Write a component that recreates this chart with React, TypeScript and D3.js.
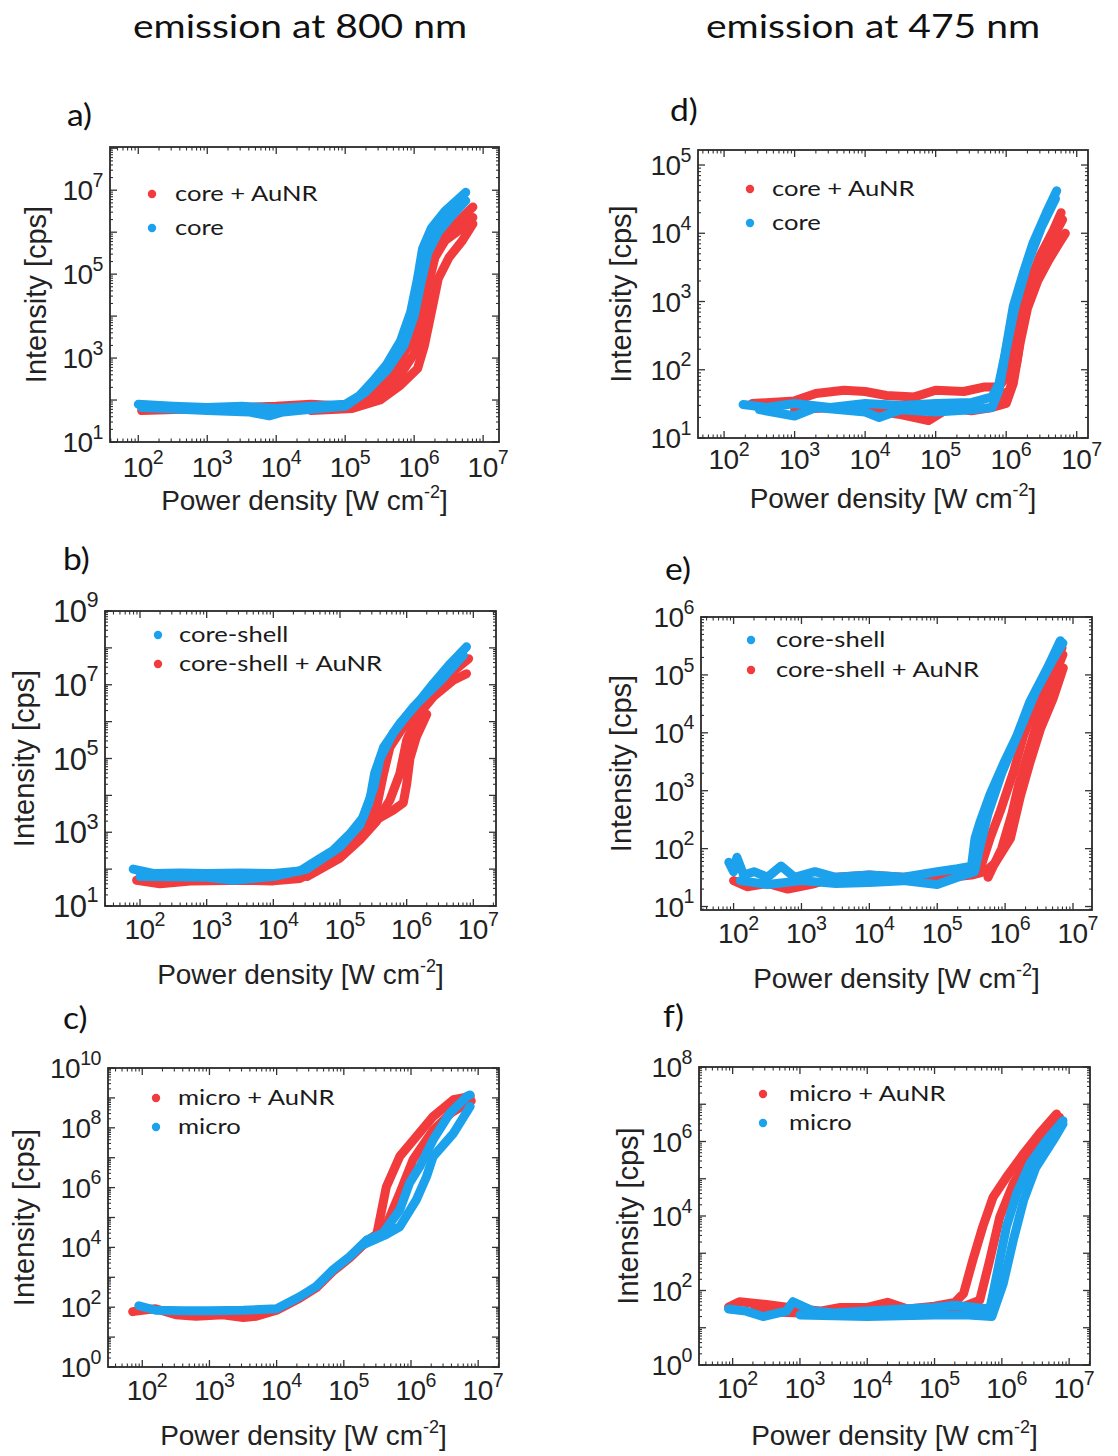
import React from 'react';
import * as d3 from 'd3';

type Pt = [number, number];

const RED = '#f13b3d';
const BLUE = '#1ca2ec';

const columnTitles = ['emission at 800 nm', 'emission at 475 nm'];
const xAxisTitle = 'Power density [W cm';
const yAxisTitle = 'Intensity [cps]';
const xTickExps = [2, 3, 4, 5, 6, 7];

// ---------- panel a: 800 nm, core ----------
const aCoreAuNR: Pt[][] = [
  [[112,56],[1e3,63],[1e4,71],[3.2e4,79],[1e5,71],[2e5,126],[3.2e5,250],[5.6e5,630],[8.9e5,2500],[1.12e6,1.26e4],[1.32e6,7.9e4],[1.58e6,3.2e5],[2.24e6,7.9e5],[4e6,1.58e6],[7.1e6,4e6]],
  [[126,63],[3.2e3,63],[6.3e4,63],[1.6e5,79],[3.2e5,158],[6.3e5,400],[1e6,1260],[1.32e6,7900],[1.58e6,5e4],[2e6,2.5e5],[2.8e6,6.3e5],[5e6,1.26e6],[7.1e6,2.24e6]],
  [[3.2e4,56],[1.26e5,63],[3.2e5,100],[6.3e5,224],[1.12e6,560],[1.41e6,2000],[1.78e6,1.26e4],[2.24e6,7.9e4],[3.2e6,2.5e5],[5e6,6.3e5],[7.1e6,1.58e6]],
];
const aCore: Pt[][] = [
  [[100,79],[320,71],[1e3,66],[3.2e3,71],[1e4,63],[3.2e4,71],[1e5,79],[1.6e5,126],[2.5e5,280],[4e5,710],[6.3e5,2500],[8.9e5,1.26e4],[1.12e6,7.9e4],[1.32e6,4e5],[1.78e6,1.26e6],[2.8e6,3.2e6],[5.6e6,8.9e6]],
  [[112,66],[1e3,56],[4e3,52],[7.9e3,42],[1.26e4,52],[3.2e4,60],[1e5,71],[2e5,158],[4e5,500],[7.1e5,2000],[1e6,1e4],[1.26e6,6.3e4],[1.58e6,3.2e5],[2.24e6,1e6],[3.55e6,2.5e6],[5.6e6,5.6e6]],
];

// ---------- panel d: 475 nm, core ----------
const dCoreAuNR: Pt[][] = [
  [[250,32],[1e3,35],[2e3,45],[5e3,50],[1e4,48],[2e4,42],[5e4,40],[1e5,50],[2.5e5,48],[5e5,56],[7.9e5,56],[1e6,79],[1.12e6,158],[1.41e6,490],[1.95e6,1480],[3e6,4600],[4.7e6,1.12e4],[6e6,2e4]],
  [[1e3,26],[3.2e3,28],[1e4,26],[3.2e4,22],[7.9e4,18],[1.58e5,28],[3.2e5,25],[6.3e5,28],[1e6,32],[1.26e6,63],[1.58e6,250],[2e6,790],[2.8e6,2000],[4e6,4000],[5.6e6,7100],[6.9e6,1e4]],
  [[7.9e5,40],[1.12e6,50],[1.41e6,126],[1.78e6,630],[2.5e6,2000],[3.55e6,5000],[5e6,1e4],[6.3e6,1.58e4]],
];
const dCore: Pt[][] = [
  [[186,31],[400,28],[1e3,32],[3.2e3,28],[1e4,32],[3.2e4,30],[1e5,32],[3.2e5,33],[6.3e5,40],[7.9e5,63],[9.5e5,158],[1.26e6,850],[1.74e6,2600],[2.4e6,7200],[3.7e6,2e4],[5.2e6,4.2e4]],
  [[316,26],[1e3,21],[2e3,28],[1e4,24],[1.58e4,20],[3.2e4,26],[1e5,24],[3.2e5,26],[6.3e5,28],[7.9e5,50],[1e6,200],[1.32e6,790],[2e6,3550],[3.2e6,1.26e4],[5e6,3.2e4]],
];

// ---------- panel b: 800 nm, core-shell ----------
const bCoreShell: Pt[][] = [
  [[79,100],[158,76],[400,79],[1e3,76],[3.2e3,79],[1e4,76],[2.5e4,89],[4.5e4,174],[7.9e4,324],[1.41e5,912],[2.24e5,2570],[2.8e5,7400],[3.3e5,3.9e4],[4.5e5,2e5],[7.9e5,8.9e5],[1.58e6,3.8e6],[2.5e6,1.07e7],[4.5e6,3.7e7],[7.9e6,1.07e8]],
  [[100,63],[1e3,60],[2.5e3,50],[1e4,63],[3.2e4,100],[1e5,400],[2e5,1580],[3.2e5,1.58e4],[4e5,1e5],[6.3e5,5e5],[1.26e6,2.5e6],[3.2e6,1.26e7],[7.1e6,6.3e7]],
];
const bCoreShellAuNR: Pt[][] = [
  [[89,50],[200,40],[630,48],[3.2e3,50],[1e4,48],[2.5e4,56],[4.5e4,93],[7.9e4,174],[1.41e5,400],[2.5e5,1380],[3.55e5,4900],[4.5e5,3.9e4],[5.6e5,2e5],[8.9e5,7.2e5],[2e6,4.7e6],[4.5e6,2e7],[8.5e6,5.1e7]],
  [[3.2e4,63],[1e5,200],[2e5,630],[3.55e5,2000],[5.6e5,7400],[7.9e5,3.9e4],[1e6,3.1e5],[1.41e6,1.32e6],[2.5e6,4.7e6],[5e6,1.32e7],[7.9e6,2e7]],
  [[4e5,2500],[6.3e5,4000],[8.9e5,6300],[1e6,2e4],[1.12e6,1e5],[1.41e6,4e5],[2e6,1.58e6]],
];

// ---------- panel e: 475 nm, core-shell ----------
const eCoreShell: Pt[][] = [
  [[85,58],[100,40],[112,71],[141,35],[200,40],[316,32],[500,50],[790,32],[1580,40],[3.2e3,32],[1e4,35],[3.2e4,32],[1e5,40],[2e5,45],[3.2e5,50],[3.6e5,151],[4.3e5,295],[6e5,870],[9.5e5,2950],[1.48e6,8700],[2.3e6,3.4e4],[4.2e6,1.32e5],[6.5e6,3.9e5]],
  [[126,28],[316,24],[1e3,28],[3.2e3,25],[1e4,26],[3.2e4,28],[1e5,24],[2e5,32],[3.55e5,40],[4.2e5,100],[5.6e5,400],[8.9e5,2000],[1.58e6,1e4],[2.8e6,5e4],[5e6,1.78e5],[7.1e6,3.55e5]],
];
const eCoreShellAuNR: Pt[][] = [
  [[100,28],[158,22],[316,25],[630,20],[1580,25],[3.2e3,32],[1e4,35],[3.2e4,32],[1e5,35],[2e5,40],[3.2e5,45],[4.3e5,45],[6e5,151],[8.5e5,447],[1.35e6,2240],[1.86e6,8700],[2.6e6,2.6e4],[4.2e6,8.7e4],[6.9e6,2.95e5]],
  [[6.3e3,26],[2e4,32],[6.3e4,28],[1.58e5,32],[3.2e5,35],[5e5,40],[7.1e5,56],[1.2e6,151],[1.66e6,760],[2.3e6,2950],[3.3e6,1.15e4],[5.1e6,3.9e4],[7.2e6,1.32e5]],
  [[5.6e5,32],[8.9e5,100],[1.26e6,400],[1.58e6,1260],[2.24e6,5000],[3.2e6,2e4],[5e6,7.9e4],[7.1e6,2.24e5]],
];

// ---------- panel c: 800 nm, micro ----------
const cMicroAuNR: Pt[][] = [
  [[72,71],[100,79],[158,89],[316,56],[630,50],[1580,56],[3.2e3,45],[5e3,50],[1e4,79],[2.2e4,200],[3.9e4,447],[6.9e4,1580],[1.23e5,4470],[2.2e5,1.58e4],[3.1e5,2.8e4],[3.5e5,1.07e5],[4.3e5,1.07e6],[6.8e5,1.1e7],[1.2e6,5.1e7],[2.14e6,2.4e8],[4.3e6,8.7e8],[7.6e6,1.12e9]],
  [[2.5e5,2e4],[4e5,4e4],[4.8e5,1e5],[6.8e5,6.5e5],[1.07e6,8.5e6],[2.14e6,8.5e7],[4e6,3.2e8],[7.9e6,7.9e8]],
];
const cMicro: Pt[][] = [
  [[89,112],[158,79],[400,76],[1e3,76],[3.2e3,79],[1e4,89],[2.2e4,224],[3.9e4,500],[6.9e4,1780],[1.23e5,5000],[2.2e5,1.78e4],[3.8e5,2.95e4],[6.8e5,1.78e5],[9.5e5,1.4e6],[1.35e6,5e6],[2.14e6,4e7],[3.8e6,3.1e8],[6.8e6,1.12e9],[7.6e6,1.26e9]],
  [[2e5,1.26e4],[4e5,2.5e4],[6.8e5,4.9e4],[1.2e6,3.9e5],[1.7e6,2.3e6],[2.14e6,1.1e7],[4.3e6,6.6e7],[7.6e6,5.2e8]],
];

// ---------- panel f: 475 nm, micro ----------
const fMicroAuNR: Pt[][] = [
  [[87,36],[126,50],[316,42],[1e3,32],[2e3,28],[4e3,35],[1e4,35],[2e4,48],[4e4,32],[1e5,38],[2e5,48],[2.7e5,83],[3.7e5,650],[5.2e5,5100],[7.4e5,3.2e4],[1.17e6,1.1e5],[2.1e6,4.7e5],[3.6e6,1.62e6],[6.5e6,5.5e6]],
  [[200,28],[1e3,25],[6.3e3,28],[3.2e4,22],[1e5,26],[2.5e5,35],[4.7e5,55],[6.6e5,650],[9.3e5,9300],[1.48e6,7.4e4],[2.95e6,5.8e5],[7.2e6,4.5e6]],
];
const fMicro: Pt[][] = [
  [[87,32],[158,28],[282,20],[630,28],[790,50],[1580,28],[3.2e3,25],[1e4,28],[3.2e4,32],[1e5,35],[2e5,40],[4e5,35],[6.6e5,32],[7.4e5,83],[9.3e5,650],[1.17e6,5100],[1.66e6,4e4],[2.6e6,2.5e5],[4.6e6,1.07e6],[8.1e6,3.6e6]],
  [[1e3,22],[1e4,20],[1e5,22],[3.2e5,22],[7.1e5,20],[1.05e6,155],[1.48e6,2240],[2.1e6,2.6e4],[3.2e6,2e5],[5.8e6,1.07e6],[8.1e6,2.95e6]],
];

type Series = { label: string; color: string; sweeps: Pt[][] };
type Panel = {
  letter: string; letterX: number; letterY: number;
  box: [number, number, number, number];
  xExp: [number, number]; yExp: [number, number];
  yLabels: number[]; yFont: number;
  xTickBase: number; xTitleBase: number; yTitleX: number;
  legX: number; legY: number[]; legTextX: number;
  legend: Series[]; drawOrder: Series[];
};

const sA1 = { label: 'core + AuNR', color: RED, sweeps: aCoreAuNR };
const sA2 = { label: 'core', color: BLUE, sweeps: aCore };
const sD1 = { label: 'core + AuNR', color: RED, sweeps: dCoreAuNR };
const sD2 = { label: 'core', color: BLUE, sweeps: dCore };
const sB1 = { label: 'core-shell', color: BLUE, sweeps: bCoreShell };
const sB2 = { label: 'core-shell + AuNR', color: RED, sweeps: bCoreShellAuNR };
const sE1 = { label: 'core-shell', color: BLUE, sweeps: eCoreShell };
const sE2 = { label: 'core-shell + AuNR', color: RED, sweeps: eCoreShellAuNR };
const sC1 = { label: 'micro + AuNR', color: RED, sweeps: cMicroAuNR };
const sC2 = { label: 'micro', color: BLUE, sweeps: cMicro };
const sF1 = { label: 'micro + AuNR', color: RED, sweeps: fMicroAuNR };
const sF2 = { label: 'micro', color: BLUE, sweeps: fMicro };

const panels: Panel[] = [
  { letter: 'a)', letterX: 67, letterY: 126, box: [110, 499, 147, 442], xExp: [1.59, 7.23], yExp: [1, 8.03],
    yLabels: [1, 3, 5, 7], yFont: 28, xTickBase: 477, xTitleBase: 510, yTitleX: 46,
    legX: 152, legY: [194, 228], legTextX: 175, legend: [sA1, sA2], drawOrder: [sA1, sA2] },
  { letter: 'd)', letterX: 670, letterY: 121, box: [698, 1088, 150, 438], xExp: [1.63, 7.16], yExp: [1, 5.22],
    yLabels: [1, 2, 3, 4, 5], yFont: 28, xTickBase: 469, xTitleBase: 508, yTitleX: 631,
    legX: 750, legY: [189, 223], legTextX: 772, legend: [sD1, sD2], drawOrder: [sD1, sD2] },
  { letter: 'b)', letterX: 63, letterY: 570, box: [105, 496, 611, 906], xExp: [1.475, 7.34], yExp: [1, 9],
    yLabels: [1, 3, 5, 7, 9], yFont: 31, xTickBase: 939, xTitleBase: 984, yTitleX: 34,
    legX: 158, legY: [635, 664], legTextX: 179, legend: [sB1, sB2], drawOrder: [sB2, sB1] },
  { letter: 'e)', letterX: 665, letterY: 580, box: [701, 1092, 617, 910], xExp: [1.52, 7.28], yExp: [0.94, 6],
    yLabels: [1, 2, 3, 4, 5, 6], yFont: 28, xTickBase: 943, xTitleBase: 988, yTitleX: 631,
    legX: 751, legY: [640, 670], legTextX: 776, legend: [sE1, sE2], drawOrder: [sE2, sE1] },
  { letter: 'c)', letterX: 63, letterY: 1029, box: [108, 499, 1068, 1367], xExp: [1.49, 7.31], yExp: [0, 10],
    yLabels: [0, 2, 4, 6, 8, 10], yFont: 28, xTickBase: 1400, xTitleBase: 1445, yTitleX: 34,
    legX: 156, legY: [1098, 1127], legTextX: 178, legend: [sC1, sC2], drawOrder: [sC1, sC2] },
  { letter: 'f)', letterX: 663, letterY: 1027, box: [699, 1090, 1067, 1365], xExp: [1.5, 7.31], yExp: [0, 8],
    yLabels: [0, 2, 4, 6, 8], yFont: 28, xTickBase: 1398, xTitleBase: 1445, yTitleX: 638,
    legX: 763, legY: [1094, 1123], legTextX: 789, legend: [sF1, sF2], drawOrder: [sF1, sF2] },
];

const ARIAL = "'Liberation Sans', Arial, sans-serif";
const CAL = "Lato, 'Open Sans', sans-serif";

function PanelView({ p, idx }: { p: Panel; idx: number }) {
  const [x0, x1, y0, y1] = p.box;
  const xs = d3.scaleLog().domain([10 ** p.xExp[0], 10 ** p.xExp[1]]).range([x0, x1]);
  const ys = d3.scaleLog().domain([10 ** p.yExp[0], 10 ** p.yExp[1]]).range([y1, y0]);
  const line = d3.line<Pt>().x(d => xs(d[0])).y(d => ys(d[1])).curve(d3.curveLinear);

  const xMajor: number[] = [];
  const xMinor: number[] = [];
  for (let k = Math.floor(p.xExp[0]); k <= Math.ceil(p.xExp[1]); k++) {
    for (let m = 1; m < 10; m++) {
      const v = m * 10 ** k;
      if (v < 10 ** p.xExp[0] || v > 10 ** p.xExp[1]) continue;
      (m === 1 ? xMajor : xMinor).push(v);
    }
  }
  const yMajor: number[] = [];
  const yMinor: number[] = [];
  for (let k = Math.floor(p.yExp[0]); k <= Math.ceil(p.yExp[1]); k++) {
    for (let m = 1; m < 10; m++) {
      const v = m * 10 ** k;
      if (v < 10 ** p.yExp[0] * 0.999 || v > 10 ** p.yExp[1] * 1.001) continue;
      (m === 1 ? yMajor : yMinor).push(v);
    }
  }
  const clipId = `clip${idx}`;
  const tk = '#333';
  const fs = 28;
  return (
    <g>
      <defs>
        <clipPath id={clipId}><rect x={x0} y={y0} width={x1 - x0} height={y1 - y0} /></clipPath>
      </defs>
      <text transform={`translate(${p.letterX},${p.letterY}) scale(1.12,1)`} fontFamily={CAL} fontSize={30} fill="#111">{p.letter}</text>
      <g clipPath={`url(#${clipId})`}>
        {p.drawOrder.map((s, si) => (
          <g key={si}>
            {s.sweeps.map((sw, wi) => (
              <path key={wi} d={line(sw) || ''} fill="none" stroke={s.color} strokeWidth={9} strokeLinejoin="round" strokeLinecap="round" />
            ))}
          </g>
        ))}
      </g>
      {xMajor.map((v, i) => (
        <g key={'xM' + i} stroke={tk} strokeWidth={1.3}>
          <line x1={xs(v)} x2={xs(v)} y1={y1} y2={y1 - 7} />
          <line x1={xs(v)} x2={xs(v)} y1={y0} y2={y0 + 7} />
        </g>
      ))}
      {xMinor.map((v, i) => (
        <g key={'xm' + i} stroke={tk} strokeWidth={1.1}>
          <line x1={xs(v)} x2={xs(v)} y1={y1} y2={y1 - 3.5} />
          <line x1={xs(v)} x2={xs(v)} y1={y0} y2={y0 + 3.5} />
        </g>
      ))}
      {yMajor.map((v, i) => (
        <g key={'yM' + i} stroke={tk} strokeWidth={1.3}>
          <line x1={x0} x2={x0 + 7} y1={ys(v)} y2={ys(v)} />
          <line x1={x1} x2={x1 - 7} y1={ys(v)} y2={ys(v)} />
        </g>
      ))}
      {yMinor.map((v, i) => (
        <g key={'ym' + i} stroke={tk} strokeWidth={1.1}>
          <line x1={x0} x2={x0 + 3} y1={ys(v)} y2={ys(v)} />
          <line x1={x1} x2={x1 - 3} y1={ys(v)} y2={ys(v)} />
        </g>
      ))}
      <rect x={x0} y={y0} width={x1 - x0} height={y1 - y0} fill="none" stroke="#2a2a2a" strokeWidth={1.8} />
      {xTickExps.map(e => (
        <text key={'xl' + e} x={xs(10 ** e) - 0.556 * fs} y={p.xTickBase} fontFamily={ARIAL} fontSize={fs} fill="#222" letterSpacing={-0.5}>
          10<tspan fontSize={fs * 0.7} dy={-fs * 0.48}>{e}</tspan>
        </text>
      ))}
      {p.yLabels.map(e => (
        <text key={'yl' + e} x={x0 - 7} y={ys(10 ** e) + 0.36 * p.yFont} textAnchor="end" fontFamily={ARIAL} fontSize={p.yFont} fill="#222" letterSpacing={-0.5}>
          10<tspan fontSize={p.yFont * 0.7} dy={-p.yFont * 0.48}>{e}</tspan>
        </text>
      ))}
      <text x={(x0 + x1) / 2} y={p.xTitleBase} textAnchor="middle" fontFamily={ARIAL} fontSize={28} fill="#222">
        {xAxisTitle}<tspan fontSize={18} dy={-12}>-2</tspan><tspan dy={12}>]</tspan>
      </text>
      <text transform={`translate(${p.yTitleX},${(y0 + y1) / 2}) rotate(-90)`} textAnchor="middle" fontFamily={ARIAL} fontSize={29} fill="#222">
        {yAxisTitle}
      </text>
      {p.legend.map((s, i) => (
        <g key={'lg' + i}>
          <circle cx={p.legX} cy={p.legY[i]} r={4.2} fill={s.color} />
          <text transform={`translate(${p.legTextX},${p.legY[i] + 7}) scale(1.22,1)`} fontFamily={CAL} fontSize={21} fill="#1a1a1a">{s.label}</text>
        </g>
      ))}
    </g>
  );
}

export default function App() {
  return (
    <svg width={1118} height={1456} viewBox="0 0 1118 1456" style={{ position: 'absolute', left: 0, top: 0, background: '#fff' }}>
      <rect x={0} y={0} width={1118} height={1456} fill="#fff" />
      <text transform="translate(300,38) scale(1.22,1)" textAnchor="middle" fontFamily={CAL} fontSize={32} fill="#111">{columnTitles[0]}</text>
      <text transform="translate(873,38) scale(1.22,1)" textAnchor="middle" fontFamily={CAL} fontSize={32} fill="#111">{columnTitles[1]}</text>
      {panels.map((p, i) => <PanelView key={i} p={p} idx={i} />)}
    </svg>
  );
}
